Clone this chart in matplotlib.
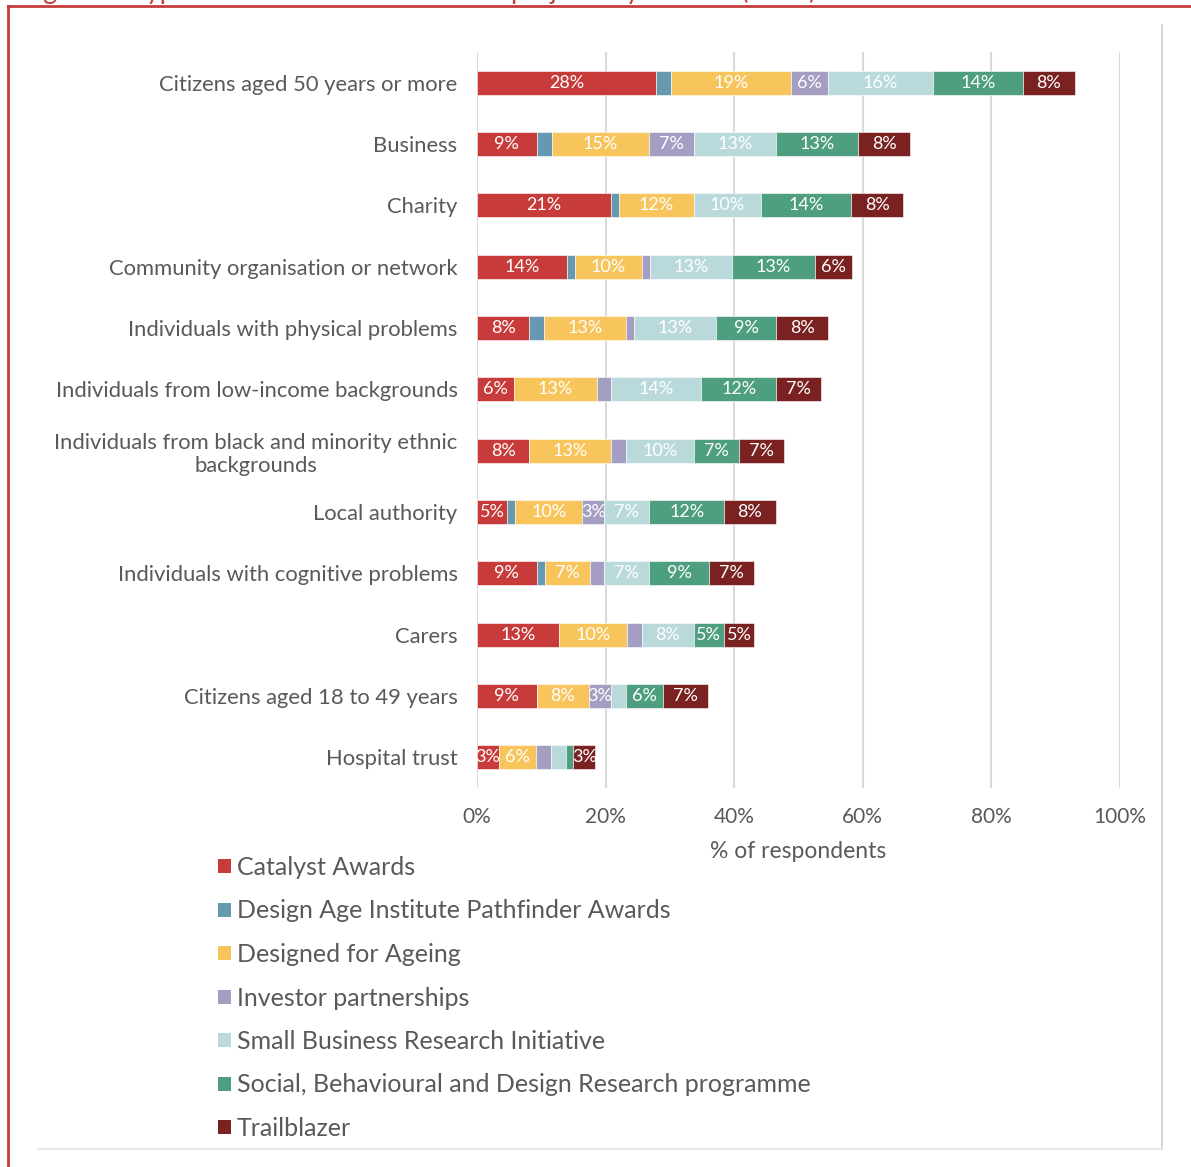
import matplotlib
matplotlib.use("Agg")
import matplotlib.pyplot as plt
from matplotlib.patches import Patch
from matplotlib.lines import Line2D
import numpy as np

plt.rcParams['font.family'] = ['Lato', 'DejaVu Sans']

# Beneficiary groups, top to bottom
groups = [
    "Citizens aged 50 years or more",
    "Business",
    "Charity",
    "Community organisation or network",
    "Individuals with physical problems",
    "Individuals from low-income backgrounds",
    "Individuals from black and minority ethnic\nbackgrounds",
    "Local authority",
    "Individuals with cognitive problems",
    "Carers",
    "Citizens aged 18 to 49 years",
    "Hospital trust",
]

schemes = [
    "Catalyst Awards",
    "Design Age Institute Pathfinder Awards",
    "Designed for Ageing",
    "Investor partnerships",
    "Small Business Research Initiative",
    "Social, Behavioural and Design Research programme",
    "Trailblazer",
]

# % of respondents per scheme, one list per scheme in group order
catalyst    = [27.9, 9.3, 20.9, 14.0, 8.1, 5.8, 8.1, 4.7, 9.3, 12.8, 9.3, 3.4]
pathfinder  = [2.3, 2.3, 1.2, 1.2, 2.3, 0.0, 0.0, 1.2, 1.2, 0.0, 0.0, 0.0]
designed    = [18.6, 15.1, 11.6, 10.5, 12.8, 12.8, 12.8, 10.5, 7.0, 10.5, 8.1, 5.8]
investor    = [5.8, 7.0, 0.0, 1.2, 1.2, 2.3, 2.3, 3.4, 2.3, 2.3, 3.4, 2.3]
sbri        = [16.3, 12.8, 10.5, 12.8, 12.8, 14.0, 10.5, 7.0, 7.0, 8.1, 2.3, 2.3]
sbdr        = [14.0, 12.8, 14.0, 12.8, 9.3, 11.6, 7.0, 11.6, 9.3, 4.7, 5.8, 1.2]
trailblazer = [8.1, 8.1, 8.1, 5.8, 8.1, 7.0, 7.0, 8.1, 7.0, 4.7, 7.0, 3.4]

series = [catalyst, pathfinder, designed, investor, sbri, sbdr, trailblazer]
colors = ["#C83B3B", "#6698B0", "#F7C55B", "#A49FC2", "#BAD9DB", "#4E9F80", "#7A2221"]

text_grey = "#595959"

fig = plt.figure(figsize=(11.91, 11.67), dpi=100)
ax = fig.add_axes([477 / 1191, 1 - 788 / 1167, 643 / 1191, 736 / 1167])

y = np.arange(len(groups))
left = np.zeros(len(groups))
for vals, col, name in zip(series, colors, schemes):
    vals = np.array(vals)
    bars = ax.barh(y, vals, left=left, height=0.39, color=col,
                   edgecolor="white", linewidth=0.4, label=name, zorder=3)
    labels = [f"{v:.0f}%" if v >= 3 else "" for v in vals]
    ax.bar_label(bars, labels=labels, label_type="center",
                 color="white", fontsize=13)
    left += vals

ax.set_xlim(0, 100)
ax.set_ylim(len(groups) - 0.5, -0.5)
ax.set_yticks(y)
ax.set_yticklabels(groups, multialignment="center")
ax.set_xticks(np.arange(0, 101, 20))
ax.set_xticklabels([f"{t}%" for t in range(0, 101, 20)])
ax.tick_params(axis="x", length=0, colors=text_grey, labelsize=15, pad=14)
ax.tick_params(axis="y", length=0, colors=text_grey, labelsize=15.8, pad=14)
ax.xaxis.grid(True, color="#D9D9D9", linewidth=1.5, zorder=0)
for s in ax.spines.values():
    s.set_visible(False)
ax.set_xlabel("% of respondents", color=text_grey, fontsize=16.5, labelpad=10)

# legend down the left side under the bars
handles = [Patch(facecolor=c, edgecolor="none") for c in colors]
fig.legend(handles, schemes, loc="upper left",
           bbox_to_anchor=(208 / 1191, 1 - 846 / 1167), frameon=False,
           fontsize=18, labelcolor=text_grey, handlelength=0.5,
           handleheight=0.5, handletextpad=0.25, labelspacing=0.82,
           borderaxespad=0)

# outer red frame and inner grey chart border
fig.add_artist(Line2D([8 / 1191, 8 / 1191], [0, 1 - 6 / 1167],
                      transform=fig.transFigure, color="#C83B3B", linewidth=2))
fig.add_artist(Line2D([8 / 1191, 1], [1 - 6 / 1167, 1 - 6 / 1167],
                      transform=fig.transFigure, color="#C83B3B", linewidth=2))
fig.add_artist(Line2D([1162 / 1191, 1162 / 1191], [1 - 25 / 1167, 1 - 1149 / 1167],
                      transform=fig.transFigure, color="#D0D0D0", linewidth=1.2))
fig.add_artist(Line2D([38 / 1191, 1162 / 1191], [1 - 1149 / 1167, 1 - 1149 / 1167],
                      transform=fig.transFigure, color="#E3E3E3", linewidth=1.2))

# figure caption sitting above the frame, only its descenders inside the page
fig.text(22 / 1191, 1 + 0.5 / 1167,
         "Figure 9: Types of beneficiaries of funded projects by scheme (n=86)",
         color="#C83B3B", fontsize=19, va="baseline", ha="left")

fig.savefig("out.png", dpi=100, facecolor="white")
